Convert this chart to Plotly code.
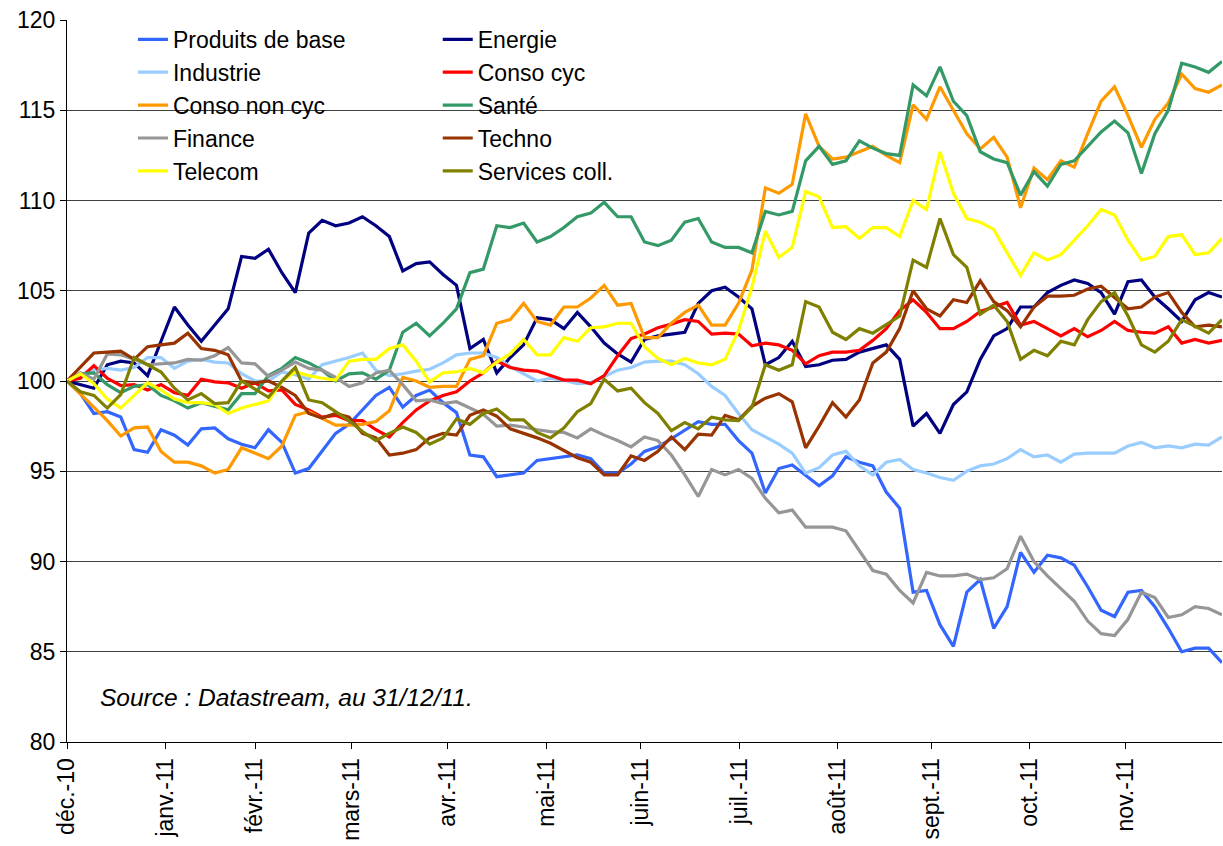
import plotly.graph_objects as go

# business-day index (every 3rd trading day from 31/12/2010)
day_index = list(range(0, 259, 3))

tick_positions = [0, 22.1, 42.0, 63.6, 85.1, 107.2, 128.2, 150.3, 172.2, 193.2, 215.1, 236.5]
tick_labels = ["déc.-10", "janv.-11", "févr.-11", "mars-11", "avr.-11", "mai-11",
               "juin-11", "juil.-11", "août-11", "sept.-11", "oct.-11", "nov.-11"]

produits_de_base = [100, 99.3, 98.2, 98.3, 98.0, 96.2, 96.05, 97.3, 97.0, 96.45,
    97.35, 97.4, 96.8, 96.5, 96.3, 97.3, 96.6, 94.9, 95.15, 96.1,
    97.1, 97.6, 98.4, 99.2, 99.65, 98.55, 99.2, 99.5, 98.8, 98.25,
    95.9, 95.8, 94.7, 94.8, 94.9, 95.6, 95.7, 95.8, 95.9, 95.7,
    94.9, 94.9, 95.4, 96.1, 96.35, 96.8, 97.3, 97.75, 97.6, 97.6,
    96.7, 96.0, 93.8, 95.15, 95.35, 94.8, 94.2, 94.75, 95.8, 95.5,
    95.3, 93.85, 92.95, 88.3, 88.4, 86.5, 85.3, 88.3, 89.0, 86.3,
    87.5, 90.5, 89.4, 90.35, 90.2, 89.8, 88.6, 87.3, 86.95, 88.3,
    88.4, 87.5, 86.3, 85.0, 85.2, 85.2, 84.4]
energie = [100, 99.8, 99.6, 100.9, 101.1, 101.0, 100.3, 102.2, 104.1, 103.1,
    102.2, 103.1, 104.0, 106.9, 106.8, 107.3, 106.0, 104.9, 108.2, 108.9,
    108.6, 108.75, 109.1, 108.6, 108.0, 106.1, 106.5, 106.6, 105.9, 105.3,
    101.8, 102.3, 100.45, 101.3, 102.0, 103.5, 103.4, 102.9, 103.8, 103.0,
    102.1, 101.5, 101.05, 102.3, 102.5, 102.6, 102.7, 104.3, 105.0, 105.2,
    104.65, 104.0, 100.9, 101.3, 102.2, 100.8, 100.9, 101.15, 101.2, 101.6,
    101.8, 102.0, 101.2, 97.5, 98.2, 97.1, 98.7, 99.4, 101.2, 102.5,
    102.9, 104.1, 104.1, 104.9, 105.3, 105.6, 105.4, 104.9, 103.7, 105.5,
    105.6, 104.65, 104.0, 103.3, 104.5, 104.9, 104.65]
industrie = [100, 100.3, 100.6, 100.7, 100.6, 100.75, 101.3, 101.3, 100.7, 101.1,
    101.2, 101.05, 101.0, 100.4, 100.0, 100.0, 100.5, 100.35, 100.1, 100.9,
    101.1, 101.3, 101.55, 100.6, 100.3, 100.4, 100.55, 100.65, 101.0, 101.45,
    101.55, 101.55, 101.3, 100.8, 100.4, 100.0, 100.15, 100.05, 99.85, 99.9,
    100.25, 100.6, 100.75, 101.05, 101.1, 101.1, 100.9, 100.4, 99.7, 99.2,
    98.2, 97.3, 96.9, 96.5, 96.0, 94.9, 95.2, 95.9, 96.1, 95.3,
    94.8, 95.5, 95.65, 95.1, 94.9, 94.65, 94.5, 95.0, 95.3, 95.4,
    95.7, 96.2, 95.8, 95.9, 95.5, 95.95, 96.0, 96.0, 96.0, 96.4,
    96.6, 96.3, 96.4, 96.3, 96.5, 96.45, 96.9]
conso_cyc = [100, 100.15, 100.85, 100.15, 99.75, 99.8, 99.5, 99.8, 99.35, 99.2,
    100.1, 99.95, 99.9, 99.6, 99.9, 99.45, 99.5, 98.7, 98.4, 98.0,
    98.1, 97.8, 97.8, 97.3, 96.9, 97.7, 98.4, 98.9, 99.2, 99.4,
    100.0, 100.45, 101.1, 100.75, 100.6, 100.55, 100.3, 100.05, 100.05, 99.85,
    100.3, 101.4, 102.35, 102.6, 102.95, 103.15, 103.4, 103.3, 102.6, 102.65,
    102.6, 101.95, 102.1, 102.0, 101.7, 100.95, 101.4, 101.6, 101.6, 101.7,
    102.25, 102.9, 103.9, 104.5, 103.8, 102.9, 102.9, 103.3, 103.85, 104.1,
    104.35, 103.1, 103.3, 102.9, 102.5, 102.9, 102.45, 102.8, 103.3, 102.8,
    102.7, 102.65, 103.0, 102.1, 102.3, 102.1, 102.25]
conso_non_cyc = [100, 99.3, 98.55, 97.8, 96.95, 97.4, 97.45, 96.1, 95.5, 95.5,
    95.3, 94.9, 95.1, 96.3, 96.0, 95.7, 96.4, 98.1, 98.3, 97.9,
    97.55, 97.55, 97.6, 97.75, 98.35, 100.2, 100.0, 99.65, 99.7, 99.7,
    101.2, 101.4, 103.2, 103.4, 104.3, 103.3, 103.1, 104.1, 104.1, 104.6,
    105.3, 104.2, 104.3, 102.4, 102.4, 103.2, 103.8, 104.2, 103.1, 103.1,
    104.3, 106.15, 110.7, 110.4, 110.9, 114.8, 113.0, 112.3, 112.4, 112.7,
    113.0, 112.5, 112.1, 115.3, 114.5, 116.3, 115.0, 113.7, 112.85, 113.5,
    112.4, 109.6, 111.8, 111.15, 112.2, 111.85, 113.7, 115.5, 116.3, 114.7,
    112.95, 114.5, 115.4, 117.0, 116.2, 116.0, 116.4]
sante = [100, 100.4, 100.45, 99.8, 99.35, 99.7, 99.8, 99.2, 98.9, 98.5,
    98.8, 98.6, 98.4, 99.3, 99.3, 100.3, 100.7, 101.3, 101.0, 100.6,
    100.0, 100.4, 100.45, 100.1, 100.6, 102.7, 103.2, 102.5, 103.2, 104.0,
    106.0, 106.2, 108.6, 108.5, 108.75, 107.7, 108.0, 108.5, 109.1, 109.3,
    109.9, 109.1, 109.1, 107.7, 107.5, 107.8, 108.8, 109.0, 107.7, 107.4,
    107.4, 107.1, 109.4, 109.2, 109.4, 112.2, 113.0, 112.0, 112.2, 113.3,
    112.9, 112.6, 112.5, 116.4, 115.8, 117.4, 115.5, 114.7, 112.7, 112.3,
    112.1, 110.3, 111.6, 110.8, 112.0, 112.2, 113.0, 113.8, 114.4, 113.75,
    111.5, 113.7, 115.0, 117.6, 117.4, 117.1, 117.7]
finance = [100, 100.45, 100.1, 101.5, 101.45, 101.2, 100.9, 100.95, 101.0, 101.2,
    101.15, 101.4, 101.85, 101.0, 100.95, 100.25, 100.6, 101.05, 100.7, 100.6,
    100.2, 99.7, 99.9, 100.45, 100.6, 99.8, 98.9, 98.95, 98.75, 98.85,
    98.5, 98.15, 97.5, 97.55, 97.45, 97.3, 97.2, 97.15, 96.85, 97.35,
    97.0, 96.7, 96.35, 96.9, 96.7, 95.9, 94.8, 93.6, 95.1, 94.8,
    95.1, 94.6, 93.5, 92.7, 92.85, 91.9, 91.9, 91.9, 91.7, 90.6,
    89.5, 89.3, 88.4, 87.7, 89.4, 89.2, 89.2, 89.3, 89.0, 89.1,
    89.6, 91.4, 90.0, 89.2, 88.5, 87.8, 86.7, 86.0, 85.9, 86.8,
    88.3, 88.0, 86.9, 87.05, 87.5, 87.4, 87.05]
techno = [100, 100.8, 101.55, 101.6, 101.65, 101.2, 101.9, 102.0, 102.1, 102.65,
    101.8, 101.7, 101.45, 100.0, 99.9, 100.0, 99.65, 99.2, 98.2, 97.95,
    98.2, 98.0, 97.1, 96.85, 95.9, 96.0, 96.2, 96.85, 97.1, 97.0,
    98.1, 98.4, 98.05, 97.35, 97.1, 96.85, 96.55, 96.15, 95.75, 95.5,
    94.8, 94.8, 95.85, 95.6, 96.1, 96.9, 96.2, 97.05, 97.0, 98.1,
    97.85, 98.6, 99.05, 99.3, 98.85, 96.3, 97.5, 98.8, 98.0, 98.95,
    101.0, 101.6, 102.9, 105.0, 104.0, 103.6, 104.5, 104.35, 105.55, 104.4,
    103.9, 103.0, 104.1, 104.7, 104.7, 104.75, 105.1, 105.25, 104.6, 104.0,
    104.1, 104.65, 104.9, 103.8, 103.0, 103.1, 103.0]
telecom = [100, 100.4, 99.85, 99.0, 98.5, 99.2, 99.9, 99.5, 99.0, 98.8,
    98.8, 98.7, 98.2, 98.5, 98.7, 98.9, 100.0, 100.5, 100.3, 100.15,
    100.05, 101.1, 101.2, 101.2, 101.8, 102.0, 101.1, 99.95, 100.45, 100.5,
    100.7, 100.45, 101.05, 101.5, 102.3, 101.45, 101.45, 102.4, 102.2, 102.95,
    103.0, 103.2, 103.2, 101.9, 101.25, 100.9, 101.25, 101.0, 100.9, 101.2,
    102.8, 105.2, 108.3, 106.85, 107.4, 110.5, 110.2, 108.5, 108.55, 107.9,
    108.5, 108.5, 108.0, 110.0, 109.5, 112.7, 110.4, 109.0, 108.8, 108.4,
    107.1, 105.85, 107.1, 106.7, 107.0, 107.8, 108.6, 109.5, 109.2, 107.8,
    106.7, 106.9, 108.0, 108.1, 107.0, 107.1, 107.9]
services_coll = [100, 99.4, 99.2, 98.5, 99.25, 101.3, 100.9, 100.5, 99.6, 98.95,
    99.3, 98.75, 98.8, 100.0, 99.55, 99.1, 100.0, 100.75, 98.95, 98.8,
    98.3, 97.8, 97.2, 96.7, 97.1, 97.45, 97.15, 96.5, 96.85, 97.9,
    97.6, 98.2, 98.45, 97.85, 97.85, 97.15, 96.85, 97.4, 98.3, 98.75,
    100.1, 99.45, 99.6, 98.8, 98.2, 97.25, 97.7, 97.35, 98.0, 97.85,
    97.8, 98.55, 100.9, 100.6, 100.9, 104.4, 104.1, 102.7, 102.3, 102.9,
    102.65, 103.1, 103.6, 106.7, 106.3, 109.0, 107.0, 106.3, 103.7, 104.2,
    103.3, 101.2, 101.7, 101.4, 102.2, 102.0, 103.4, 104.4, 104.9, 103.6,
    102.0, 101.6, 102.2, 103.4, 103.0, 102.65, 103.4]

series_names = ["Produits de base", "Energie", "Industrie", "Conso cyc", "Conso non cyc",
                "Santé", "Finance", "Techno", "Telecom", "Services coll."]
series_values = [produits_de_base, energie, industrie, conso_cyc, conso_non_cyc,
                 sante, finance, techno, telecom, services_coll]
series_colors = ["#3366FF", "#000080", "#99CCFF", "#FF0000", "#FF9900",
                 "#339966", "#969696", "#993300", "#FFFF00", "#808000"]

FONT = "Liberation Sans, Arial, sans-serif"

fig = go.Figure()
for i, (name, vals, col) in enumerate(zip(series_names, series_values, series_colors)):
    fig.add_trace(go.Scatter(x=day_index, y=vals, mode="lines", name=name,
                             legend="legend" if i % 2 == 0 else "legend2",
                             line=dict(color=col, width=3.2)))

legend_common = dict(orientation="v", yanchor="top", xanchor="left", y=1.003,
                     bgcolor="rgba(0,0,0,0)", itemwidth=30,
                     font=dict(family=FONT, size=23, color="black"))

fig.update_layout(
    width=1223, height=846,
    margin=dict(l=67, r=1, t=20, b=104),
    plot_bgcolor="white", paper_bgcolor="white",
    font=dict(family=FONT, size=23, color="black"),
    legend=dict(x=0.0571, **legend_common),
    legend2=dict(x=0.321, **legend_common),
    xaxis=dict(range=[0, 258], tickmode="array", tickvals=tick_positions, ticktext=tick_labels,
               tickangle=-90, ticks="outside", ticklen=6, tickcolor="black",
               showline=True, linecolor="black", linewidth=1, showgrid=False,
               zeroline=False, automargin=False, ticklabeloverflow="allow",
               tickfont=dict(family=FONT, size=23)),
    yaxis=dict(range=[80, 120], tick0=80, dtick=5, ticks="outside", ticklen=6, tickcolor="black",
               showline=True, linecolor="black", linewidth=1, showgrid=True,
               gridcolor="#404040", gridwidth=1, zeroline=False, automargin=False,
               ticklabeloverflow="allow", tickfont=dict(family=FONT, size=23)),
    shapes=[dict(type="rect", xref="paper", yref="paper", x0=0.002, x1=0.497, y0=0.77, y1=0.996,
                 fillcolor="white", line=dict(width=0), layer="between")],
    annotations=[dict(text="<i>Source : Datastream, au 31/12/11.</i>", xref="paper", yref="paper",
                      x=0.027, y=0.0623, xanchor="left", yanchor="middle", showarrow=False,
                      font=dict(family=FONT, size=24.5, color="black"))],
)

# remove the default 8px page margin so the 1223x846 figure fills the window exactly
fig.write_html("out.html", config={"displayModeBar": False},
               post_script="document.body.style.margin='0px';document.body.style.overflow='hidden';")
